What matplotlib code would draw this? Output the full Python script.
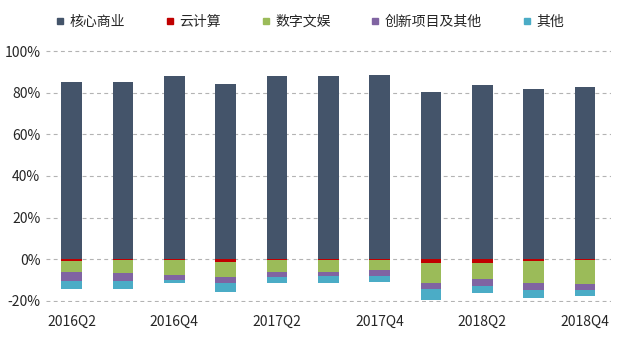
import matplotlib
matplotlib.use("Agg")
import matplotlib.pyplot as plt
import numpy as np
from matplotlib.lines import Line2D
from matplotlib.ticker import FuncFormatter

plt.rcParams['font.family'] = ['Noto Sans CJK SC', 'DejaVu Sans']

quarters = ["2016Q2", "2016Q3", "2016Q4", "2017Q1", "2017Q2", "2017Q3",
            "2017Q4", "2018Q1", "2018Q2", "2018Q3", "2018Q4"]

# share of operating profit, % (core positive, the rest losses)
core = [85.3, 85.3, 88.1, 84.4, 88.2, 88.2, 88.6, 80.5, 83.7, 81.8, 82.7]
cloud = [1.0, 0.4, 0.3, 1.1, 0.4, 0.4, 0.5, 1.6, 1.6, 1.0, 0.6]
digital = [5.0, 6.3, 7.2, 7.4, 5.5, 5.8, 4.9, 9.6, 7.8, 10.4, 11.1]
innovation = [4.6, 3.9, 2.3, 3.0, 2.4, 2.0, 2.6, 3.0, 3.3, 3.3, 2.9]
other = [3.9, 3.7, 1.7, 4.0, 2.9, 3.0, 3.0, 5.6, 3.6, 3.7, 3.0]

names = ["核心商业", "云计算", "数字文娱", "创新项目及其他", "其他"]
colors = ["#44546A", "#C00000", "#9BBB59", "#8064A2", "#4BACC6"]

fig = plt.figure(figsize=(6.2, 3.4), dpi=100)
ax = fig.add_axes([0.074, 0.112, 0.911, 0.741])

x = np.arange(len(quarters))
w = 0.4

ax.bar(x, core, w, color=colors[0], zorder=3)

bottom = np.zeros(len(quarters))
for vals, c in zip([cloud, digital, innovation, other], colors[1:]):
    v = -np.array(vals)
    ax.bar(x, v, w, bottom=bottom, color=c, zorder=3)
    bottom += v

ax.set_xlim(-0.5, len(quarters) - 0.5)
ax.set_ylim(-20.5, 100.5)
ax.set_yticks(np.arange(-20, 101, 20))
ax.yaxis.set_major_formatter(FuncFormatter(lambda v, p: f"{v:.0f}%"))
ax.set_xticks(x[::2])
ax.set_xticklabels(quarters[::2])

ax.grid(axis='y', linestyle=(0, (3.5, 3)), color='#B3B3B3', linewidth=0.8, zorder=0)
for s in ax.spines.values():
    s.set_visible(False)
ax.tick_params(length=0, labelsize=10, colors='#262626')
ax.tick_params(axis='x', pad=9)
ax.tick_params(axis='y', pad=4)

handles = [Line2D([], [], marker='s', linestyle='none', markersize=5,
                  color=c) for c in colors]
fig.legend(handles, names, loc='center', bbox_to_anchor=(0.5, 0.935),
           ncol=5, frameon=False, fontsize=10, handlelength=0.6,
           handletextpad=0.4, columnspacing=2.9, labelcolor='#262626')

fig.savefig("out.png", dpi=100)
